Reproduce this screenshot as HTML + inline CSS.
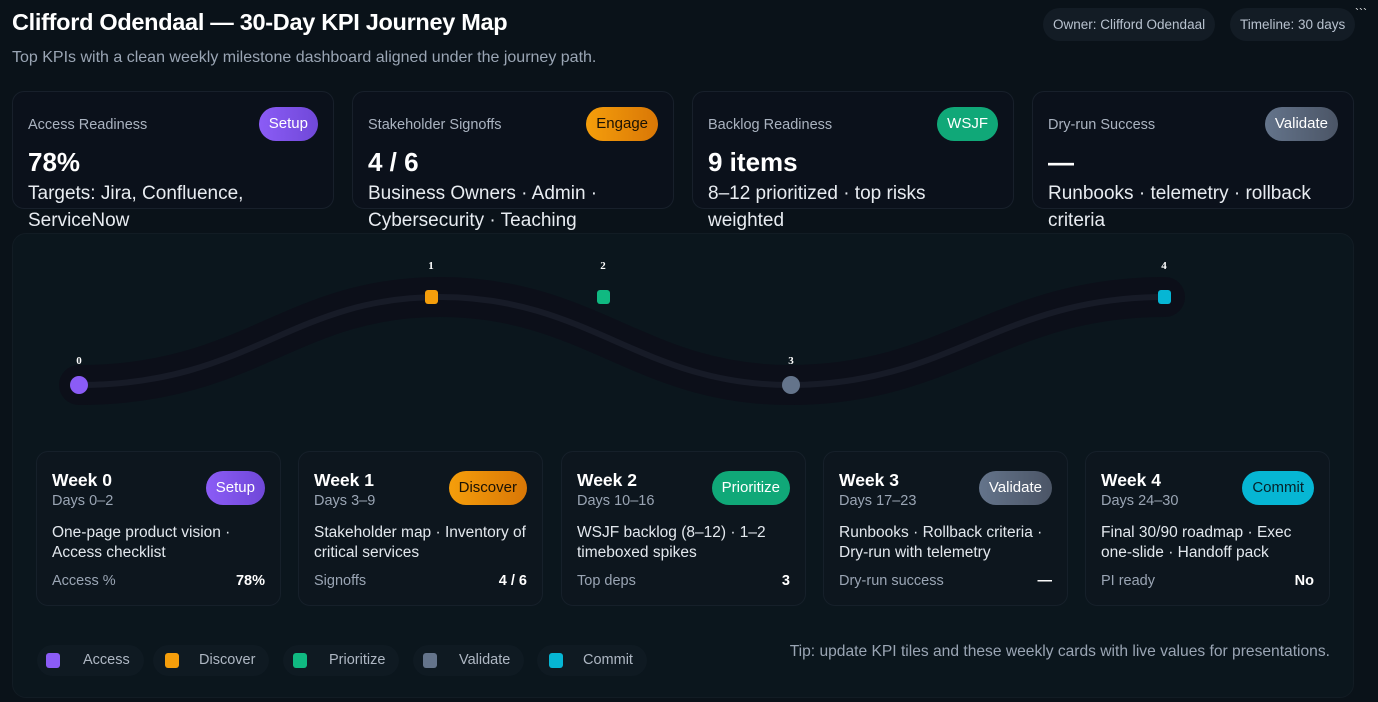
<!DOCTYPE html>
<html><head><meta charset="utf-8"><style>
*{box-sizing:border-box;margin:0;padding:0}
body{width:1378px;height:702px;background:#0a1219;font-family:"Liberation Sans",sans-serif;color:#e5e9f0;position:relative;overflow:hidden}
.abs{position:absolute}
h1{position:absolute;left:12px;top:9px;font-size:23.5px;font-weight:700;color:#fff;letter-spacing:-0.3px}
.sub{left:12px;top:49px;font-size:16px;color:#9aa5b4}
.chip{top:8px;height:33px;border-radius:17px;background:#131c25;color:#b8c2cf;font-size:13.5px;line-height:33px;padding:0 10px}
.kpi{top:91px;width:322px;height:118px;border:1px solid #18202b;border-radius:12px;background:#0b111b}
.kpi .t{position:absolute;left:15px;top:25px;font-size:14.5px;color:#aab3c0}
.kpi .v{position:absolute;left:15px;top:55px;font-size:26px;font-weight:700;color:#fff}
.kpi .d{position:absolute;left:15px;top:88px;font-size:19px;color:#e8ecf1;line-height:27px;width:290px}
.badge{position:absolute;border-radius:17px;height:34px;line-height:34px;padding:0 10px;font-size:15px;color:#fff}
.panel{left:12px;top:233px;width:1342px;height:465px;border-radius:14px;background:#0b161d;border:1px solid #121c24}
.wk{top:451px;width:245px;height:155px;border-radius:12px;background:#0d161e;border:1px solid #16202a}
.wk .h{position:absolute;left:15px;top:18px;font-size:17.5px;font-weight:700;color:#fff}
.wk .dd{position:absolute;left:15px;top:41px;font-size:14.5px;color:#9aa5b4}
.wk .b{position:absolute;left:15px;top:71px;font-size:15.5px;color:#e3e8ee;line-height:20px;width:212px}
.wk .m{position:absolute;left:15px;top:121px;font-size:14.5px;color:#9aa5b4}
.wk .mv{position:absolute;right:15px;top:121px;font-size:14.5px;font-weight:700;color:#fff}
.wk .badge{top:19px;right:15px}
.lg{top:645px;height:31px;border-radius:16px;background:#0f1a22;font-size:14.5px;color:#aeb7c3;line-height:31px;padding:0 14px 0 46px}
.lg i{position:absolute;left:9px;top:8px;width:14px;height:15px;border-radius:3px}
</style></head><body>
<h1>Clifford Odendaal — 30-Day KPI Journey Map</h1>
<div class="abs sub">Top KPIs with a clean weekly milestone dashboard aligned under the journey path.</div>
<div class="abs chip" style="left:1043px">Owner: Clifford Odendaal</div>
<div class="abs chip" style="left:1230px">Timeline: 30 days</div>
<div class="abs" style="left:1355px;top:6px;font-size:12px;color:#fff">&#96;&#96;&#96;</div>

<div class="abs kpi" style="left:12px"><div class="t">Access Readiness</div><div class="badge" style="right:15px;top:15px;background:linear-gradient(90deg,#8b5cf6,#7048d8)">Setup</div><div class="v">78%</div><div class="d">Targets: Jira, Confluence, ServiceNow</div></div>
<div class="abs kpi" style="left:352px"><div class="t">Stakeholder Signoffs</div><div class="badge" style="right:15px;top:15px;background:linear-gradient(90deg,#f59e0b,#d97706);color:#1a1205">Engage</div><div class="v">4 / 6</div><div class="d">Business Owners · Admin · Cybersecurity · Teaching</div></div>
<div class="abs kpi" style="left:692px"><div class="t">Backlog Readiness</div><div class="badge" style="right:15px;top:15px;background:#10a878">WSJF</div><div class="v">9 items</div><div class="d">8–12 prioritized · top risks weighted</div></div>
<div class="abs kpi" style="left:1032px"><div class="t">Dry-run Success</div><div class="badge" style="right:15px;top:15px;background:linear-gradient(90deg,#64748b,#4b5566)">Validate</div><div class="v">—</div><div class="d">Runbooks · telemetry · rollback criteria</div></div>

<div class="abs panel"></div>
<svg class="abs" style="left:0;top:0" width="1378" height="702">
<path d="M79 385 C 250 385, 290 297, 440 297 C 590 297, 640 385, 790 385 C 950 385, 1000 297, 1165 297" fill="none" stroke="#0c0f19" stroke-width="40" stroke-linecap="round"/>
<path d="M79 385 C 250 385, 290 297, 440 297 C 590 297, 640 385, 790 385 C 950 385, 1000 297, 1165 297" fill="none" stroke="#171b27" stroke-width="6" stroke-linecap="round"/>
<circle cx="79" cy="385" r="9" fill="#8b5cf6"/>
<rect x="425" y="290" width="13" height="14" rx="3" fill="#f59e0b"/>
<rect x="597" y="290" width="13" height="14" rx="3" fill="#10b981"/>
<circle cx="791" cy="385" r="9" fill="#64748b"/>
<rect x="1158" y="290" width="13" height="14" rx="3" fill="#06b6d4"/>
<g font-family="Liberation Serif,serif" font-size="11" font-weight="700" fill="#fff" text-anchor="middle">
<text x="79" y="364">0</text><text x="431" y="269">1</text><text x="603" y="269">2</text><text x="791" y="364">3</text><text x="1164" y="269">4</text></g>
</svg>

<div class="abs wk" style="left:36px"><div class="h">Week 0</div><div class="dd">Days 0–2</div><div class="badge" style="background:linear-gradient(90deg,#8b5cf6,#7048d8)">Setup</div><div class="b">One-page product vision · Access checklist</div><div class="m">Access %</div><div class="mv">78%</div></div>
<div class="abs wk" style="left:298px"><div class="h">Week 1</div><div class="dd">Days 3–9</div><div class="badge" style="background:linear-gradient(90deg,#f59e0b,#d97706);color:#1a1205">Discover</div><div class="b">Stakeholder map · Inventory of critical services</div><div class="m">Signoffs</div><div class="mv">4 / 6</div></div>
<div class="abs wk" style="left:561px"><div class="h">Week 2</div><div class="dd">Days 10–16</div><div class="badge" style="background:#10a878">Prioritize</div><div class="b">WSJF backlog (8–12) · 1–2 timeboxed spikes</div><div class="m">Top deps</div><div class="mv">3</div></div>
<div class="abs wk" style="left:823px"><div class="h">Week 3</div><div class="dd">Days 17–23</div><div class="badge" style="background:linear-gradient(90deg,#64748b,#4b5566)">Validate</div><div class="b">Runbooks · Rollback criteria · Dry-run with telemetry</div><div class="m">Dry-run success</div><div class="mv">—</div></div>
<div class="abs wk" style="left:1085px"><div class="h">Week 4</div><div class="dd">Days 24–30</div><div class="badge" style="background:#06b6d4;color:#06222a">Commit</div><div class="b">Final 30/90 roadmap · Exec one-slide · Handoff pack</div><div class="m">PI ready</div><div class="mv">No</div></div>

<div class="abs lg" style="left:37px"><i style="background:#8b5cf6"></i>Access</div>
<div class="abs lg" style="left:153px"><i style="background:#f59e0b;left:12px"></i>Discover</div>
<div class="abs lg" style="left:283px"><i style="background:#10b981;left:10px"></i>Prioritize</div>
<div class="abs lg" style="left:413px"><i style="background:#64748b;left:10px"></i>Validate</div>
<div class="abs lg" style="left:537px"><i style="background:#06b6d4;left:12px"></i>Commit</div>
<div class="abs" style="right:48px;top:643px;font-size:15.6px;color:#9aa5b4">Tip: update KPI tiles and these weekly cards with live values for presentations.</div>
</body></html>
